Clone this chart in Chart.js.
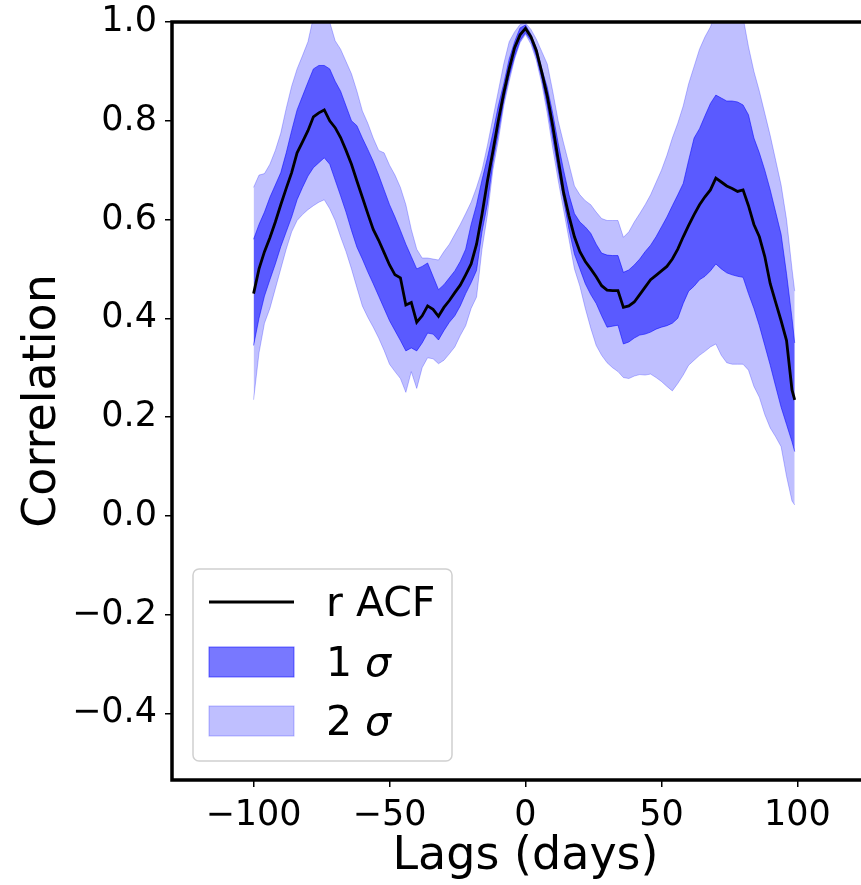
<!DOCTYPE html>
<html>
<head>
<meta charset="utf-8">
<script src="https://cdn.jsdelivr.net/npm/chart.js"></script>
<style>
  html, body { margin: 0; padding: 0; background: #fff; overflow: hidden; }
  canvas { display: block; }
</style>
</head>
<body>
<canvas id="acfChart" width="890" height="885"></canvas>
<script>
// lag grid (days)
var lags = [
  -100, -98, -96, -94, -92, -90, -88, -86, -84, -82,
  -80, -78, -76, -74, -72, -70, -68, -66, -64, -62,
  -60, -58, -56, -54, -52, -50, -48, -46, -44, -42,
  -40, -38, -36, -34, -32, -30, -28, -26, -24, -22,
  -20, -18, -16, -14, -12, -10, -8, -6, -4, -2,
  0, 2, 4, 6, 8, 10, 12, 14, 16, 18,
  20, 22, 24, 26, 28, 30, 32, 34, 36, 38,
  40, 42, 44, 46, 48, 50, 52, 54, 56, 58,
  60, 62, 64, 66, 68, 70, 72, 74, 76, 78,
  80, 82, 84, 86, 88, 90, 92, 94, 96, 98,
  99
];

// r ACF
var acf = [
  0.450, 0.500, 0.535, 0.563, 0.595, 0.630, 0.663, 0.695, 0.735, 0.757,
  0.780, 0.808, 0.816, 0.822, 0.800, 0.786, 0.766, 0.740, 0.712, 0.678,
  0.645, 0.612, 0.580, 0.558, 0.533, 0.508, 0.488, 0.482, 0.427, 0.432,
  0.392, 0.405, 0.425, 0.418, 0.404, 0.422, 0.436, 0.452, 0.467, 0.488,
  0.510, 0.550, 0.610, 0.678, 0.738, 0.800, 0.856, 0.905, 0.948, 0.974,
  0.987, 0.970, 0.942, 0.898, 0.850, 0.790, 0.722, 0.655, 0.607, 0.565,
  0.535, 0.515, 0.500, 0.484, 0.466, 0.457, 0.456, 0.456, 0.422, 0.425,
  0.433, 0.448, 0.463, 0.478, 0.487, 0.496, 0.505, 0.520, 0.540, 0.565,
  0.588, 0.610, 0.630, 0.646, 0.660, 0.684, 0.676, 0.668, 0.663, 0.657,
  0.660, 0.628, 0.590, 0.565, 0.525, 0.470, 0.432, 0.395, 0.355, 0.255,
  0.235
];

// 1 sigma band
var sig1Hi = [
  0.560, 0.590, 0.615, 0.645, 0.670, 0.695, 0.735, 0.780, 0.822, 0.850,
  0.878, 0.905, 0.912, 0.912, 0.905, 0.880, 0.860, 0.830, 0.800, 0.790,
  0.765, 0.742, 0.718, 0.690, 0.660, 0.630, 0.605, 0.578, 0.550, 0.525,
  0.500, 0.505, 0.512, 0.485, 0.458, 0.468, 0.482, 0.496, 0.515, 0.540,
  0.590, 0.630, 0.680, 0.725, 0.775, 0.830, 0.875, 0.925, 0.960, 0.988,
  0.994, 0.975, 0.948, 0.905, 0.868, 0.815, 0.755, 0.700, 0.650, 0.612,
  0.595, 0.585, 0.572, 0.550, 0.532, 0.528, 0.527, 0.527, 0.493, 0.498,
  0.508, 0.520, 0.535, 0.548, 0.565, 0.585, 0.605, 0.628, 0.650, 0.673,
  0.720, 0.765, 0.784, 0.810, 0.835, 0.852, 0.846, 0.840, 0.840, 0.838,
  0.832, 0.812, 0.765, 0.735, 0.700, 0.660, 0.615, 0.570, 0.490, 0.400,
  0.350
];
var sig1Lo = [
  0.345, 0.400, 0.445, 0.478, 0.510, 0.545, 0.575, 0.605, 0.640, 0.665,
  0.688, 0.705, 0.715, 0.725, 0.712, 0.680, 0.648, 0.615, 0.578, 0.544,
  0.520, 0.494, 0.470, 0.445, 0.420, 0.395, 0.375, 0.355, 0.334, 0.340,
  0.334, 0.350, 0.370, 0.368, 0.356, 0.375, 0.392, 0.405, 0.425, 0.450,
  0.472, 0.497, 0.575, 0.632, 0.715, 0.775, 0.840, 0.890, 0.930, 0.962,
  0.978, 0.962, 0.930, 0.885, 0.830, 0.765, 0.700, 0.640, 0.580, 0.530,
  0.500, 0.470, 0.448, 0.430, 0.405, 0.382, 0.384, 0.386, 0.348, 0.352,
  0.360, 0.366, 0.368, 0.372, 0.378, 0.382, 0.385, 0.390, 0.400, 0.430,
  0.455, 0.465, 0.478, 0.485, 0.496, 0.510, 0.500, 0.492, 0.488, 0.485,
  0.483, 0.450, 0.420, 0.385, 0.345, 0.305, 0.262, 0.220, 0.185, 0.150,
  0.130
];

// 2 sigma band
var sig2Hi = [
  0.665, 0.690, 0.693, 0.712, 0.740, 0.775, 0.825, 0.870, 0.905, 0.932,
  0.960, 1.010, 1.030, 1.030, 1.000, 0.962, 0.945, 0.920, 0.895, 0.860,
  0.820, 0.795, 0.765, 0.740, 0.735, 0.710, 0.690, 0.665, 0.630, 0.580,
  0.540, 0.522, 0.522, 0.520, 0.518, 0.535, 0.550, 0.570, 0.590, 0.612,
  0.635, 0.665, 0.700, 0.750, 0.805, 0.860, 0.915, 0.960, 0.980, 0.995,
  0.998, 0.985, 0.965, 0.940, 0.915, 0.860, 0.800, 0.755, 0.712, 0.668,
  0.650, 0.638, 0.630, 0.615, 0.602, 0.598, 0.598, 0.598, 0.564, 0.575,
  0.595, 0.612, 0.630, 0.650, 0.675, 0.700, 0.730, 0.765, 0.795, 0.830,
  0.875, 0.910, 0.945, 0.970, 0.990, 1.020, 1.040, 1.050, 1.050, 1.040,
  1.010, 0.950, 0.900, 0.860, 0.815, 0.770, 0.720, 0.670, 0.600, 0.500,
  0.455
];
var sig2Lo = [
  0.235, 0.330, 0.390, 0.420, 0.460, 0.500, 0.540, 0.575, 0.598, 0.610,
  0.620, 0.628, 0.635, 0.640, 0.622, 0.598, 0.565, 0.535, 0.500, 0.462,
  0.425, 0.402, 0.382, 0.360, 0.335, 0.307, 0.292, 0.278, 0.250, 0.292,
  0.258, 0.300, 0.320, 0.318, 0.308, 0.315, 0.328, 0.342, 0.365, 0.385,
  0.420, 0.443, 0.540, 0.610, 0.700, 0.760, 0.830, 0.880, 0.925, 0.958,
  0.975, 0.955, 0.922, 0.875, 0.815, 0.745, 0.680, 0.620, 0.560, 0.500,
  0.465, 0.420, 0.380, 0.345, 0.325, 0.310, 0.300, 0.292, 0.280, 0.278,
  0.283, 0.286, 0.285, 0.287, 0.280, 0.272, 0.262, 0.253, 0.268, 0.285,
  0.305, 0.315, 0.325, 0.333, 0.342, 0.348, 0.325, 0.310, 0.307, 0.307,
  0.307, 0.295, 0.262, 0.240, 0.205, 0.178, 0.160, 0.140, 0.080, 0.030,
  0.022
];

// tick labels
var xTicks = [-100, -50, 0, 50, 100];
var yTicks = [-0.4, -0.2, 0.0, 0.2, 0.4, 0.6, 0.8, 1.0];

var FONT = "'DejaVu Sans', 'Liberation Sans', sans-serif";
var BLUE1 = 'rgba(0, 0, 255, 0.53)';
var BLUE2 = 'rgba(0, 0, 255, 0.25)';

function pts(series) {
    return lags.map(function (x, i) { return {x: x, y: series[i]}; });
}

function minus(s) {
    return s.replace('-', '\u2212');
}

/**
 * Draws the full black frame round the plot area (matplotlib style box).
 */
var framePlugin = {
    id: 'frame',
    afterDatasetsDraw: function (chart) {
        var ctx = chart.ctx, a = chart.chartArea;
        ctx.save();
        ctx.strokeStyle = '#000';
        ctx.lineWidth = 3.5;
        ctx.strokeRect(a.left, a.top, a.right - a.left, a.bottom - a.top);
        ctx.restore();
    }
};

/**
 * Legend box in the lower left corner of the axes.
 */
var legendPlugin = {
    id: 'boxLegend',
    afterDraw: function (chart) {
        var ctx = chart.ctx, a = chart.chartArea;
        var bx = a.left + 21, by = a.bottom - 211, bw = 259, bh = 192;
        ctx.save();
        ctx.beginPath();
        ctx.roundRect(bx, by, bw, bh, 6);
        ctx.fillStyle = 'rgba(255,255,255,0.8)';
        ctx.fill();
        ctx.strokeStyle = '#d0d0d0';
        ctx.lineWidth = 1.5;
        ctx.stroke();

        var hx = bx + 16, hw = 85, tx = bx + 133;
        var entries = chart.data.datasets.filter(function (d) { return d.legendText; });
        var rows = [33, 93, 152];
        entries.forEach(function (d, i) {
            var cy = by + rows[i];
            if (d.legendKind === 'line') {
                ctx.strokeStyle = '#000';
                ctx.lineWidth = 2.8;
                ctx.beginPath();
                ctx.moveTo(hx, cy);
                ctx.lineTo(hx + hw, cy);
                ctx.stroke();
            } else {
                ctx.fillStyle = d.backgroundColor;
                ctx.fillRect(hx, cy - 15, hw, 30);
                ctx.strokeStyle = d.backgroundColor;
                ctx.lineWidth = 1;
                ctx.strokeRect(hx, cy - 15, hw, 30);
            }
            ctx.fillStyle = '#000';
            ctx.textBaseline = 'alphabetic';
            ctx.font = '41px ' + FONT;
            var base = cy + 14;
            ctx.fillText(d.legendText, tx, base);
            if (d.legendItalic) {
                var w = ctx.measureText(d.legendText).width;
                ctx.font = 'italic 41px ' + FONT;
                ctx.fillText(d.legendItalic, tx + w, base);
            }
        });
        ctx.restore();
    }
};

var ctx = document.getElementById('acfChart').getContext('2d');
var acfChart = new Chart(ctx, {
    type: 'line',
    data: {
        datasets: [
            {label: 'r ACF', legendText: 'r ACF', legendKind: 'line',
                data: pts(acf), borderColor: '#000', borderWidth: 2.8, fill: false},
            {label: '1 sigma', legendText: '1 ', legendItalic: '\u03c3',
                data: pts(sig1Hi), borderColor: BLUE1, borderWidth: 1,
                backgroundColor: BLUE1, fill: '+1'},
            {label: '1 sigma low', data: pts(sig1Lo), borderColor: BLUE1, borderWidth: 1, fill: false},
            {label: '2 sigma', legendText: '2 ', legendItalic: '\u03c3',
                data: pts(sig2Hi), borderColor: BLUE2, borderWidth: 1,
                backgroundColor: BLUE2, fill: '+1'},
            {label: '2 sigma low', data: pts(sig2Lo), borderColor: BLUE2, borderWidth: 1, fill: false}
        ]
    },
    options: {
        responsive: false,
        animation: false,
        devicePixelRatio: 1,
        elements: {point: {radius: 0}, line: {tension: 0}},
        layout: {padding: {top: 22, right: 11, left: 0, bottom: 0}},
        plugins: {legend: {display: false}, tooltip: {enabled: false}},
        scales: {
            x: {
                type: 'linear',
                min: -130,
                max: 130,
                afterBuildTicks: function (axis) {
                    axis.ticks = xTicks.map(function (v) { return {value: v}; });
                },
                afterFit: function (axis) { axis.height = 105; },
                border: {display: false},
                grid: {drawOnChartArea: false, drawTicks: true, tickLength: 7, color: '#000', lineWidth: 1.5},
                ticks: {
                    color: '#000',
                    padding: 8,
                    maxRotation: 0,
                    font: {family: FONT, size: 35},
                    callback: function (v) { return minus(String(v)); }
                },
                title: {
                    display: true,
                    text: 'Lags (days)',
                    color: '#000',
                    padding: {top: 0, bottom: 0},
                    font: {family: FONT, size: 46}
                }
            },
            y: {
                type: 'linear',
                min: -0.535,
                max: 1.0,
                afterBuildTicks: function (axis) {
                    axis.ticks = yTicks.map(function (v) { return {value: v}; });
                },
                afterFit: function (axis) {
                    axis.width = 172;
                    axis.paddingTop = 0;
                    axis.paddingBottom = 0;
                },
                border: {display: false},
                grid: {drawOnChartArea: false, drawTicks: true, tickLength: 7, color: '#000', lineWidth: 1.5},
                ticks: {
                    color: '#000',
                    padding: 8,
                    font: {family: FONT, size: 35},
                    callback: function (v) { return minus(Number(v).toFixed(1)); }
                },
                title: {
                    display: true,
                    text: 'Correlation',
                    color: '#000',
                    padding: {top: 15, bottom: 0},
                    font: {family: FONT, size: 46}
                }
            }
        }
    },
    plugins: [framePlugin, legendPlugin]
});
</script>
</body>
</html>
